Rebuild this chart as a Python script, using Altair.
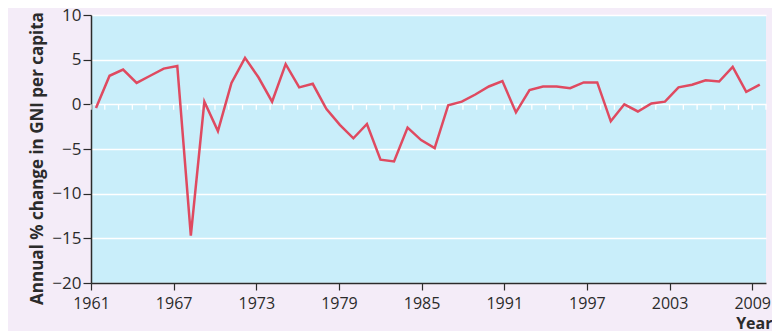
import altair as alt
import pandas as pd

years = list(range(1961, 2011))
values = [
    -0.4, 3.2, 3.9, 2.4, 3.2, 4.0, 4.3, -14.7, 0.3, -3.0,
    2.4, 5.2, 3.0, 0.3, 4.5, 1.9, 2.3, -0.5, -2.3, -3.8,
    -2.2, -6.2, -6.4, -2.6, -4.0, -4.9, -0.1, 0.3, 1.1, 2.0,
    2.6, -0.9, 1.6, 2.0, 2.0, 1.8, 2.45, 2.45, -1.9, 0.0,
    -0.8, 0.1, 0.3, 1.9, 2.2, 2.7, 2.55, 4.2, 1.4, 2.2,
]
tick_years = [1961, 1967, 1973, 1979, 1985, 1991, 1997, 2003, 2009]
minor_years = list(range(1961, 2011))
y_ticks = [10, 5, 0, -5, -10, -15, -20]

FONT = "Open Sans"
INK = "#2b2b2b"

line_df = pd.DataFrame({"year": years, "value": values})
minor_df = pd.DataFrame({"year": minor_years, "y0": [0.0] * len(minor_years),
                         "y1": [-0.6] * len(minor_years)})

y_scale = alt.Scale(domain=[-20, 10], nice=False, zero=False)

minor = alt.Chart(minor_df).mark_rule(color="white", strokeWidth=1.3).encode(
    x=alt.X("year:Q",
            scale=alt.Scale(domain=[1961, 2010], nice=False, zero=False),
            axis=alt.Axis(values=tick_years, format="d", title="Year",
                          grid=False, domainColor=INK, domainWidth=1.5,
                          tickColor=INK, tickSize=7, tickWidth=1.2,
                          labelFont=FONT, labelFontSize=16, labelColor=INK,
                          labelPadding=5, labelFlush=False,
                          titleFont=FONT, titleFontSize=16, titleFontWeight="bold",
                          titleColor=INK, titleX=681, titleY=45.5,
                          titleAlign="right", titleBaseline="alphabetic")),
    y=alt.Y("y0:Q", scale=y_scale,
            axis=alt.Axis(values=y_ticks, title="Annual % change in GNI per capita",
                          grid=True, gridColor="white", gridWidth=1.5,
                          domainColor=INK, domainWidth=1.5,
                          tickColor=INK, tickSize=8, tickWidth=1.2,
                          labelFont=FONT, labelFontSize=17, labelColor=INK,
                          labelPadding=2, labelFlush=False,
                          titleFont=FONT, titleFontSize=17, titleFontWeight="bold",
                          titleColor=INK, titleX=-49, titleY=143,
                          titleAlign="center", titleAngle=-90,
                          titleBaseline="alphabetic")),
    y2="y1:Q",
)

line = alt.Chart(line_df).mark_line(color="#df4a60", strokeWidth=2.5,
                                    strokeJoin="miter").encode(
    x=alt.X("year:Q",
            scale=alt.Scale(domain=[1960.631, 2010.458], nice=False, zero=False),
            axis=None),
    y=alt.Y("value:Q", scale=y_scale),
)

chart = alt.layer(minor, line).resolve_scale(x="independent").properties(
    width=675, height=268,
    autosize=alt.AutoSizeParams(type="none"),
    padding={"left": 83, "top": 7, "right": 6, "bottom": 48},
    background="#f4ecf8",
).configure_view(fill="#c9eefa", stroke=None)

chart.save("out.html", embed_options={"renderer": "svg", "actions": False})
